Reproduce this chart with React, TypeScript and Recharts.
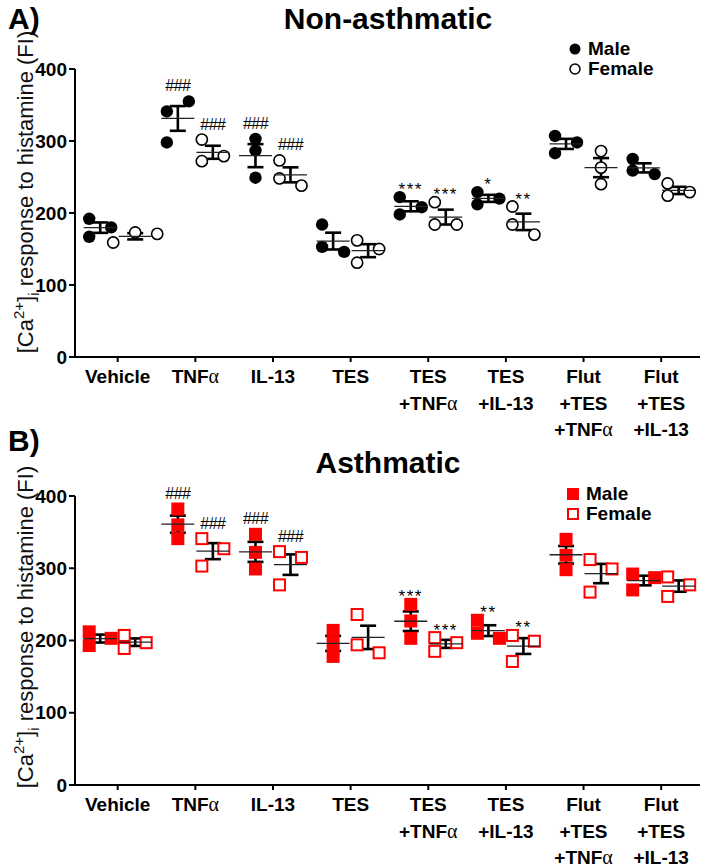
import React from "react";
import { ScatterChart, Scatter, XAxis, YAxis, ErrorBar } from "recharts";

// categories (one entry per line of the tick label)
const categoryLines = [
  ["Vehicle"],
  ["TNFα"],
  ["IL-13"],
  ["TES"],
  ["TES", "+TNFα"],
  ["TES", "+IL-13"],
  ["Flut", "+TES", "+TNFα"],
  ["Flut", "+TES", "+IL-13"],
];

// A) non-asthmatic, 3 cells per group
const naMale = [
  [192, 180, 167],
  [341, 355, 298],
  [303, 287, 249],
  [184, 153, 146],
  [222, 208, 198],
  [229, 220, 212],
  [307, 298, 283],
  [275, 259, 254],
];
const naFemale = [
  [173, 171, 159],
  [302, 272, 279],
  [273, 248, 238],
  [162, 150, 131],
  [215, 184, 184],
  [209, 184, 170],
  [286, 263, 240],
  [241, 229, 224],
];
const naMaleMarks = ["", "###", "###", "", "***", "*", "", ""];
const naFemaleMarks = ["", "###", "###", "", "***", "**", "", ""];

// B) asthmatic
const asMale = [
  [212, 203, 193],
  [382, 360, 341],
  [347, 322, 299],
  [214, 196, 178],
  [250, 227, 203],
  [228, 210, 203],
  [340, 318, 298],
  [292, 287, 270],
];
const asFemale = [
  [207, 197, 189],
  [341, 327, 303],
  [323, 315, 277],
  [236, 194, 183],
  [204, 197, 185],
  [207, 199, 171],
  [312, 299, 267],
  [288, 277, 261],
];
const asMaleMarks = ["", "###", "###", "", "***", "**", "", ""];
const asFemaleMarks = ["", "###", "###", "", "***", "**", "", ""];

const yTicks = [0, 100, 200, 300, 400];
const xTicks = categoryLines.map((_, i) => i);

const FONT = "'Liberation Sans', Arial, sans-serif";
const W = 712;
const PLOT_LEFT = 75;
const PLOT_RIGHT = 700;
const X_DOMAIN: [number, number] = [-0.55, 7.5];
const PX_PER_CAT = (PLOT_RIGHT - PLOT_LEFT) / (X_DOMAIN[1] - X_DOMAIN[0]);
const SEX_OFFSET = 17.5 / PX_PER_CAT;
const STEP = 22; // px between swarm columns
const MIN_GAP = 11; // px

// simple beeswarm, returns horizontal offsets (in category units)
function swarm(values: number[], pxPerUnit: number) {
  const placed: { v: number; k: number }[] = [];
  values.forEach((v) => {
    for (const k of [0, 1, -1, 2, -2]) {
      const ok = placed.every(
        (p) => Math.hypot((p.k - k) * STEP, (p.v - v) * pxPerUnit) >= MIN_GAP
      );
      if (ok) {
        placed.push({ v, k });
        break;
      }
    }
  });
  const ks = placed.map((p) => p.k);
  const mid = (Math.max(...ks) + Math.min(...ks)) / 2;
  return placed.map((p) => ({ v: p.v, off: ((p.k - mid) * STEP) / PX_PER_CAT }));
}

function buildPoints(groups: number[][], side: number, pxPerUnit: number) {
  const out: { x: number; y: number }[] = [];
  groups.forEach((vals, i) => {
    swarm(vals, pxPerUnit).forEach((p) =>
      out.push({ x: i + side * SEX_OFFSET + p.off, y: p.v })
    );
  });
  return out;
}

function buildMeans(groups: number[][], side: number) {
  return groups.map((vals, i) => {
    const n = vals.length;
    const mean = vals.reduce((a, b) => a + b, 0) / n;
    const sd = Math.sqrt(vals.reduce((a, b) => a + (b - mean) ** 2, 0) / (n - 1));
    return { x: i + side * SEX_OFFSET, y: mean, sem: sd / Math.sqrt(n) };
  });
}

function buildMarks(groups: number[][], marks: string[], side: number) {
  return groups
    .map((vals, i) => ({ x: i + side * SEX_OFFSET, y: Math.max(...vals), label: marks[i] }))
    .filter((m) => m.label);
}

const CatTick = (props: any) => {
  const { x, y, payload } = props;
  const lines = categoryLines[payload.value] || [];
  return (
    <g>
      {lines.map((line, li) => {
        const parts = line.split("α");
        return (
          <text
            key={li}
            x={x}
            y={y + 19 + li * 26.5}
            textAnchor="middle"
            fontFamily={FONT}
            fontWeight="bold"
            fontSize={19}
            fill="#000"
          >
            {parts[0]}
            {parts.length > 1 && (
              <tspan fontFamily="'Liberation Serif', serif" fontWeight="normal" fontSize={20}>
                α
              </tspan>
            )}
          </text>
        );
      })}
    </g>
  );
};

const YLabel = (cy: number) => () => {
  return (
    <text
      transform={`translate(33,${cy}) rotate(-90)`}
      textAnchor="middle"
      fontFamily={FONT}
      fontSize={22}
      fill="#111"
    >
      <tspan>[Ca</tspan>
      <tspan dy={-9} fontSize={15}>2+</tspan>
      <tspan dy={9}>]</tspan>
      <tspan dy={6} fontSize={15}>i</tspan>
      <tspan dy={-6}> response to histamine (FI)</tspan>
    </text>
  );
};

interface PanelProps {
  top: number;
  height: number;
  plotTop: number;
  plotBottom: number;
  labelY: number;
  male: number[][];
  female: number[][];
  maleMarks: string[];
  femaleMarks: string[];
  square: boolean;
}

function Panel({ top, height, plotTop, plotBottom, labelY, male, female, maleMarks, femaleMarks, square }: PanelProps) {
  const pxPerUnit = (plotBottom - plotTop) / 400;
  const xAxisH = 72;
  const color = square ? "#ff0000" : "#000";

  const malePts = buildPoints(male, -1, pxPerUnit);
  const femalePts = buildPoints(female, 1, pxPerUnit);
  const means = [...buildMeans(male, -1), ...buildMeans(female, 1)];
  const marks = [...buildMarks(male, maleMarks, -1), ...buildMarks(female, femaleMarks, 1)];

  const filledShape = (p: any) =>
    square ? (
      <rect x={p.cx - 6.5} y={p.cy - 6.5} width={13} height={13} fill={color} />
    ) : (
      <circle cx={p.cx} cy={p.cy} r={6.2} fill={color} />
    );
  const openShape = (p: any) =>
    square ? (
      <rect x={p.cx - 5.5} y={p.cy - 5.5} width={11} height={11} fill="#fff" stroke={color} strokeWidth={2} />
    ) : (
      <circle cx={p.cx} cy={p.cy} r={5.6} fill="#fff" stroke={color} strokeWidth={1.6} />
    );
  const meanShape = (p: any) => (
    <line x1={p.cx - 16.5} x2={p.cx + 16.5} y1={p.cy} y2={p.cy} stroke="#222" strokeWidth={1.3} />
  );
  const markShape = (p: any) => {
    const hash = p.payload.label.startsWith("#");
    return (
      <text
        x={p.cx}
        y={p.cy - (hash ? 10 : 2)}
        textAnchor="middle"
        fontFamily={FONT}
        fontSize={hash ? 16 : 17}
        letterSpacing={hash ? -0.5 : 1.5}
        fill="#000"
      >
        {p.payload.label}
      </text>
    );
  };

  return (
    <div style={{ position: "absolute", left: 0, top }}>
      <ScatterChart
        width={W}
        height={height}
        margin={{ top: plotTop, right: W - PLOT_RIGHT, bottom: height - plotBottom - xAxisH, left: 0 }}
      >
        <XAxis
          type="number"
          dataKey="x"
          domain={X_DOMAIN}
          ticks={xTicks}
          interval={0}
          allowDataOverflow
          height={xAxisH}
          tickSize={5}
          tick={<CatTick />}
          axisLine={{ stroke: "#000", strokeWidth: 2 }}
          tickLine={{ stroke: "#000", strokeWidth: 2 }}
        />
        <YAxis
          type="number"
          dataKey="y"
          domain={[0, 400]}
          ticks={yTicks}
          width={PLOT_LEFT}
          tickSize={6}
          tick={{ fontSize: 19, fontWeight: "bold", fill: "#000", fontFamily: FONT }}
          axisLine={{ stroke: "#000", strokeWidth: 2 }}
          tickLine={{ stroke: "#000", strokeWidth: 2 }}
          label={{ content: YLabel(labelY) }}
        />
        <Scatter data={malePts} shape={filledShape} isAnimationActive={false} />
        <Scatter data={femalePts} shape={openShape} isAnimationActive={false} />
        <Scatter data={means} shape={meanShape} isAnimationActive={false}>
          <ErrorBar dataKey="sem" direction="y" width={8} stroke="#000" strokeWidth={2.6} />
        </Scatter>
        <Scatter data={marks} shape={markShape} isAnimationActive={false} />
      </ScatterChart>
    </div>
  );
}

function Legend({ left, top, square }: { left: number; top: number; square: boolean }) {
  const icon = (filled: boolean) => (
    <svg width={14} height={14} style={{ marginRight: 6 }}>
      {square ? (
        filled ? (
          <rect x={1} y={1} width={12} height={12} fill="#ff0000" />
        ) : (
          <rect x={2} y={2} width={10} height={10} fill="#fff" stroke="#ff0000" strokeWidth={2} />
        )
      ) : filled ? (
        <circle cx={7} cy={7} r={5.5} fill="#000" />
      ) : (
        <circle cx={7} cy={7} r={5} fill="#fff" stroke="#000" strokeWidth={1.5} />
      )}
    </svg>
  );
  const row = (filled: boolean, text: string) => (
    <div style={{ display: "flex", alignItems: "center", height: 20 }}>
      {icon(filled)}
      <span style={{ fontFamily: FONT, fontWeight: "bold", fontSize: 19, lineHeight: "20px", color: "#000" }}>
        {text}
      </span>
    </div>
  );
  return (
    <div style={{ position: "absolute", left, top }}>
      {row(true, "Male")}
      {row(false, "Female")}
    </div>
  );
}

const titleStyle: React.CSSProperties = {
  position: "absolute",
  fontFamily: FONT,
  fontWeight: "bold",
  fontSize: 30,
  color: "#000",
  lineHeight: "30px",
  whiteSpace: "nowrap",
};

export default function App() {
  return (
    <div style={{ position: "absolute", left: 0, top: 0, width: W, height: 868, background: "#fff" }}>
      <Panel
        top={0}
        height={446}
        plotTop={69}
        plotBottom={357}
        labelY={192}
        male={naMale}
        female={naFemale}
        maleMarks={naMaleMarks}
        femaleMarks={naFemaleMarks}
        square={false}
      />
      <Panel
        top={434}
        height={434}
        plotTop={62}
        plotBottom={351}
        labelY={193}
        male={asMale}
        female={asFemale}
        maleMarks={asMaleMarks}
        femaleMarks={asFemaleMarks}
        square
      />
      <div style={{ ...titleStyle, left: 8, top: 4 }}>A)</div>
      <div style={{ ...titleStyle, left: 0, width: 776, top: 4, textAlign: "center" }}>Non-asthmatic</div>
      <div style={{ ...titleStyle, left: 8, top: 426 }}>B)</div>
      <div style={{ ...titleStyle, left: 0, width: 776, top: 448, textAlign: "center" }}>Asthmatic</div>
      <Legend left={568} top={39} square={false} />
      <Legend left={566} top={484} square />
    </div>
  );
}
